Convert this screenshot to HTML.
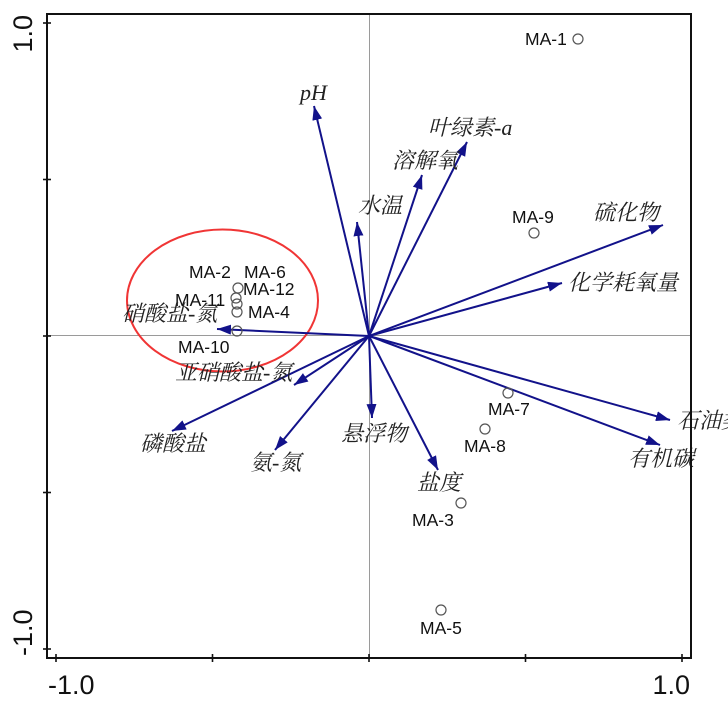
<!DOCTYPE html>
<html>
<head>
<meta charset="utf-8">
<style>
  html, body { margin: 0; padding: 0; background: #ffffff; }
  body { width: 728px; height: 703px; overflow: hidden; }
  svg { display: block; }
  .ax { font-family: "Liberation Sans", Arial, sans-serif; font-size: 27px; fill: #111; }
  .ma { font-family: "Liberation Sans", Arial, sans-serif; font-size: 17.5px; fill: #111; }
  .cn { font-family: "Liberation Serif", "Noto Serif CJK SC", serif; font-size: 22px; font-style: italic; fill: #222; }
  .pt { fill: none; stroke: #555; stroke-width: 1.2; }
  .ar { stroke: #12128a; stroke-width: 2; fill: none; }
</style>
</head>
<body>
<svg width="728" height="703" viewBox="0 0 728 703" xmlns="http://www.w3.org/2000/svg">
  <defs>
    <marker id="ah" markerUnits="userSpaceOnUse" markerWidth="16" markerHeight="12" refX="14" refY="5" orient="auto">
      <path d="M0,0 L14,5 L0,10 z" fill="#12128a"/>
    </marker>
  </defs>
  <rect x="0" y="0" width="728" height="703" fill="#fff"/>

  <!-- center lines -->
  <line x1="369.5" y1="14" x2="369.5" y2="658" stroke="#9a9a9a" stroke-width="1"/>
  <line x1="47" y1="335.5" x2="691" y2="335.5" stroke="#9a9a9a" stroke-width="1"/>

  <!-- red ellipse -->
  <ellipse cx="222.5" cy="300.5" rx="95.5" ry="71" fill="none" stroke="#f03535" stroke-width="2"/>

  <!-- arrows -->
  <g class="ar" marker-end="url(#ah)">
    <line x1="369" y1="336" x2="314" y2="106" marker-end="url(#ah)"/>
    <line x1="369" y1="336" x2="467" y2="142" marker-end="url(#ah)"/>
    <line x1="369" y1="336" x2="422" y2="175" marker-end="url(#ah)"/>
    <line x1="369" y1="336" x2="357" y2="222" marker-end="url(#ah)"/>
    <line x1="369" y1="336" x2="663" y2="225" marker-end="url(#ah)"/>
    <line x1="369" y1="336" x2="562" y2="283" marker-end="url(#ah)"/>
    <line x1="369" y1="336" x2="670" y2="420" marker-end="url(#ah)"/>
    <line x1="369" y1="336" x2="660" y2="445" marker-end="url(#ah)"/>
    <line x1="369" y1="336" x2="438" y2="470" marker-end="url(#ah)"/>
    <line x1="369" y1="336" x2="372" y2="418" marker-end="url(#ah)"/>
    <line x1="369" y1="336" x2="275" y2="450" marker-end="url(#ah)"/>
    <line x1="369" y1="336" x2="172" y2="431" marker-end="url(#ah)"/>
    <line x1="369" y1="336" x2="294" y2="385" marker-end="url(#ah)"/>
    <line x1="369" y1="336" x2="217" y2="329" marker-end="url(#ah)"/>
  </g>

  <!-- sample points -->
  <circle class="pt" cx="578" cy="39" r="5"/>
  <circle class="pt" cx="534" cy="233" r="5"/>
  <circle class="pt" cx="508" cy="393" r="5"/>
  <circle class="pt" cx="485" cy="429" r="5"/>
  <circle class="pt" cx="461" cy="503" r="5"/>
  <circle class="pt" cx="441" cy="610" r="5"/>
  <circle class="pt" cx="238" cy="288" r="5"/>
  <circle class="pt" cx="236" cy="298" r="5"/>
  <circle class="pt" cx="237" cy="304" r="5"/>
  <circle class="pt" cx="237" cy="312" r="5"/>
  <circle class="pt" cx="237" cy="331" r="5"/>

  <!-- sample labels -->
  <text class="ma" x="525" y="45">MA-1</text>
  <text class="ma" x="512" y="223">MA-9</text>
  <text class="ma" x="488" y="415">MA-7</text>
  <text class="ma" x="464" y="452">MA-8</text>
  <text class="ma" x="412" y="526">MA-3</text>
  <text class="ma" x="420" y="634">MA-5</text>
  <text class="ma" x="189" y="278">MA-2</text>
  <text class="ma" x="244" y="278">MA-6</text>
  <text class="ma" x="243" y="295">MA-12</text>
  <text class="ma" x="175" y="306">MA-11</text>
  <text class="ma" x="248" y="318">MA-4</text>
  <text class="ma" x="178" y="353">MA-10</text>

  <!-- variable labels -->
  <text class="cn" x="300" y="100">pH</text>
  <text class="cn" x="428" y="135">叶绿素-a</text>
  <text class="cn" x="392" y="168">溶解氧</text>
  <text class="cn" x="358" y="213">水温</text>
  <text class="cn" x="593" y="220">硫化物</text>
  <text class="cn" x="568" y="290">化学耗氧量</text>
  <text class="cn" x="677" y="428">石油类</text>
  <text class="cn" x="628" y="466">有机碳</text>
  <text class="cn" x="417" y="490">盐度</text>
  <text class="cn" x="341" y="441">悬浮物</text>
  <text class="cn" x="250" y="470">氨-氮</text>
  <text class="cn" x="140" y="451">磷酸盐</text>
  <text class="cn" x="175" y="380">亚硝酸盐-氮</text>
  <text class="cn" x="122" y="321">硝酸盐-氮</text>

  <!-- frame -->
  <rect x="47" y="14" width="644" height="644" fill="none" stroke="#111" stroke-width="2"/>

  <!-- ticks -->
  <g stroke="#111" stroke-width="1.6">
    <line x1="43" y1="23" x2="51" y2="23"/>
    <line x1="43" y1="179.5" x2="51" y2="179.5"/>
    <line x1="43" y1="336" x2="51" y2="336"/>
    <line x1="43" y1="492.5" x2="51" y2="492.5"/>
    <line x1="43" y1="649" x2="51" y2="649"/>
    <line x1="56" y1="654" x2="56" y2="662"/>
    <line x1="212.5" y1="654" x2="212.5" y2="662"/>
    <line x1="369" y1="654" x2="369" y2="662"/>
    <line x1="525.5" y1="654" x2="525.5" y2="662"/>
    <line x1="682" y1="654" x2="682" y2="662"/>
  </g>

  <!-- axis tick labels -->
  <text class="ax" x="48" y="694">-1.0</text>
  <text class="ax" x="690" y="694" text-anchor="end">1.0</text>
  <text class="ax" transform="translate(32,15) rotate(-90)" text-anchor="end">1.0</text>
  <text class="ax" transform="translate(32,656) rotate(-90)" text-anchor="start">-1.0</text>
</svg>
</body>
</html>
